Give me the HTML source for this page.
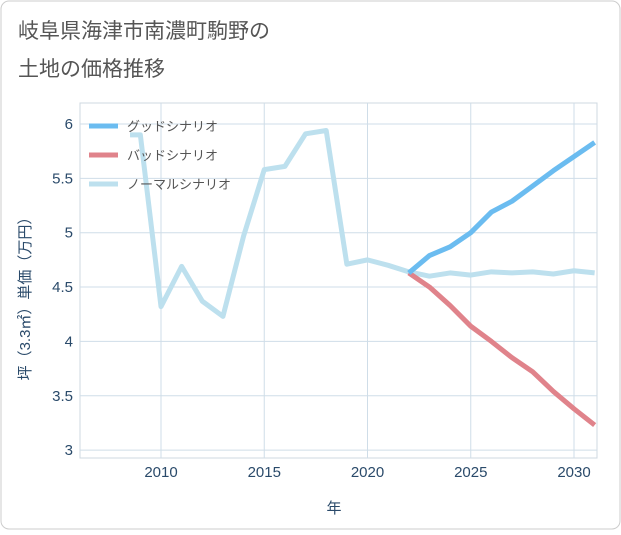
<!DOCTYPE html>
<html><head><meta charset="utf-8"><style>
body{margin:0;background:#fff}
#wrap{position:relative;width:621px;height:530px;font-family:"Liberation Sans","Noto Sans CJK JP",sans-serif}
</style></head><body>
<div id="wrap">
<svg id="svg" width="621" height="530">
<rect x="1" y="1" width="619" height="528" rx="8" fill="#fff" stroke="#ccc"/>
<text x="18" y="38" font-size="21" fill="#555" font-family="Liberation Sans,Noto Sans CJK JP,sans-serif">岐阜県海津市南濃町駒野の</text>
<text x="18" y="76" font-size="21" fill="#555" font-family="Liberation Sans,Noto Sans CJK JP,sans-serif">土地の価格推移</text>
<g id="grid"></g><g id="lines"></g><g id="legend"></g>
<text x="334" y="513" font-size="15" fill="#2a4a6a" text-anchor="middle" font-family="Liberation Sans,Noto Sans CJK JP,sans-serif">年</text>
<text transform="translate(30,295) rotate(-90)" font-size="15" fill="#2a4a6a" text-anchor="middle" font-family="Liberation Sans,Noto Sans CJK JP,sans-serif">坪（3.3㎡）単価（万円）</text>
</svg></div>
<script>
const xTicks=[2010,2015,2020,2025,2030];
const yTicks=[3,3.5,4,4.5,5,5.5,6];
const normalYears=[2008.5,2009,2010,2011,2012,2013,2014,2015,2016,2017,2018,2019,2020,2021,2022,2023,2024,2025,2026,2027,2028,2029,2030,2031];
const normalVals=[5.9,5.9,4.32,4.69,4.37,4.23,4.97,5.58,5.61,5.91,5.94,4.71,4.75,4.70,4.64,4.60,4.63,4.61,4.64,4.63,4.64,4.62,4.65,4.63];
const futureYears=[2022,2023,2024,2025,2026,2027,2028,2029,2030,2031];
const goodVals=[4.63,4.79,4.87,5.00,5.19,5.29,5.43,5.57,5.70,5.83];
const badVals=[4.63,4.50,4.33,4.14,4.00,3.85,3.72,3.54,3.38,3.23];
const L=80,R=597,T=103,B=458;
const X=y=>161+(y-2010)*20.65;
const Y=v=>124+(6-v)*108.7;
const NS="http://www.w3.org/2000/svg";
function mk(p,t,a){const e=document.createElementNS(NS,t);for(const k in a)e.setAttribute(k,a[k]);p.appendChild(e);return e;}
const g=document.getElementById('grid');
const frame=mk(g,'rect',{x:L,y:T,width:R-L,height:B-T,fill:'none',stroke:'#cfd8e0'});


xTicks.forEach(t=>{
const l=mk(g,'line',{x1:X(t),x2:X(t),y1:T,y2:B,stroke:'#cfdde8'});


const tx=mk(g,'text',{x:X(t),y:477,'font-size':15,fill:'#2a4a6a','text-anchor':'middle'});tx.textContent=t;


});
yTicks.forEach(t=>{
const l=mk(g,'line',{x1:L,x2:R,y1:Y(t),y2:Y(t),stroke:'#cfdde8'});


const tx=mk(g,'text',{x:73,y:Y(t)+5,'font-size':15,fill:'#2a4a6a','text-anchor':'end'});tx.textContent=t;


});
const lg=document.getElementById('lines');
const cp=mk(lg,'clipPath',{id:'cp'});
mk(cp,'rect',{x:L,y:T,width:R-L,height:B-T});
function line(xs,vs,c,name){
const p=mk(lg,'polyline',{points:xs.map((y,i)=>X(y)+','+Y(vs[i])).join(' '),fill:'none',stroke:c,'stroke-width':5,'stroke-linejoin':'round','clip-path':'url(#cp)'});


}
line(normalYears,normalVals,'#bde0ee','normal-scenario-line');
line(futureYears,badVals,'#e0838b','bad-scenario-line');
line(futureYears,goodVals,'#6bbcf0','good-scenario-line');
const leg=document.getElementById('legend');
[['グッドシナリオ','#6bbcf0','legend-good'],['バッドシナリオ','#e0838b','legend-bad'],['ノーマルシナリオ','#bde0ee','legend-normal']].forEach((d,i)=>{
const y=126+i*29;
const bg=mk(leg,'rect',{x:86,y:y-10,width:160,height:20,fill:'transparent'});


mk(leg,'line',{x1:89,x2:118,y1:y,y2:y,stroke:d[1],'stroke-width':5});
const t=mk(leg,'text',{x:127,y:y+5,'font-size':13,fill:'#555'});t.textContent=d[0];


});
</script>
</body></html>
